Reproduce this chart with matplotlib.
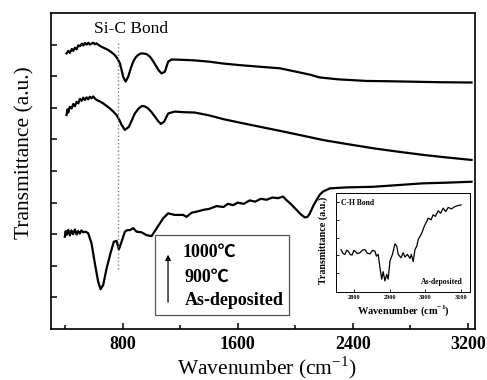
import matplotlib
matplotlib.use("Agg")
import matplotlib.pyplot as plt
from matplotlib.patches import Rectangle

plt.rcParams['font.family'] = ['Liberation Serif', 'Noto Sans CJK SC', 'DejaVu Sans']
plt.rcParams['mathtext.fontset'] = 'custom'
plt.rcParams['mathtext.rm'] = 'Liberation Serif'
plt.rcParams['mathtext.bf'] = 'Liberation Serif:bold'

# FTIR spectra (wavenumber in cm-1, transmittance in a.u.)
wn_1000 = [408, 420, 431, 445, 455, 466, 478, 490, 501, 515, 525, 536, 548, 560, 570, 582,
           595, 606, 617, 630, 652, 675, 698, 720, 744, 762, 779, 790, 802, 819, 837, 855,
           872, 890, 906, 925, 941, 965, 988, 1010, 1034, 1050, 1069, 1092, 1115, 1139,
           1200, 1254, 1301, 1400, 1500, 1614, 1750, 1892, 2008, 2100, 2170, 2300, 2495,
           2650, 2774, 3000, 3226]
tr_1000 = [8.72, 8.80, 8.74, 8.86, 8.80, 8.90, 8.85, 8.98, 8.95, 9.03, 8.97, 9.05, 9.00, 9.06,
           9.00, 9.03, 9.06, 9.01, 9.04, 8.99, 8.93, 8.88, 8.83, 8.76, 8.67, 8.56, 8.41, 8.22,
           7.98, 7.83, 7.98, 8.25, 8.46, 8.60, 8.67, 8.72, 8.72, 8.70, 8.62, 8.48, 8.30, 8.18,
           8.09, 8.14, 8.46, 8.53, 8.52, 8.51, 8.50, 8.46, 8.40, 8.35, 8.30, 8.25, 8.14, 8.05,
           7.96, 7.90, 7.85, 7.84, 7.83, 7.81, 7.80]

wn_900 = [408, 415, 420, 431, 443, 455, 466, 478, 490, 501, 513, 525, 536, 548, 559, 570,
          582, 594, 606, 617, 640, 663, 687, 710, 733, 756, 775, 791, 814, 842, 862, 883,
          910, 934, 955, 976, 1000, 1023, 1045, 1064, 1087, 1115, 1161, 1230, 1301, 1400,
          1500, 1614, 1753, 1915, 2050, 2193, 2350, 2541, 2700, 2889, 3050, 3226]
tr_900 = [6.77, 6.95, 6.85, 7.03, 6.98, 7.12, 7.05, 7.19, 7.14, 7.28, 7.22, 7.32, 7.25, 7.33,
          7.27, 7.35, 7.30, 7.36, 7.29, 7.25, 7.20, 7.14, 7.06, 6.98, 6.88, 6.77, 6.62, 6.46,
          6.30, 6.40, 6.60, 6.82, 6.98, 7.06, 7.04, 6.98, 6.86, 6.72, 6.58, 6.49, 6.56, 6.82,
          6.88, 6.86, 6.85, 6.76, 6.64, 6.53, 6.40, 6.25, 6.12, 5.98, 5.86, 5.72, 5.62, 5.51,
          5.43, 5.35]

wn_asdep = [396, 402, 408, 420, 431, 442, 454, 466, 478, 489, 500, 512, 524, 540, 559, 582,
            605, 628, 645, 663, 687, 714, 737, 756, 772, 791, 814, 832, 849, 872, 895, 930,
            965, 1000, 1034, 1080, 1115, 1161, 1220, 1243, 1278, 1320, 1359, 1400, 1452,
            1500, 1530, 1567, 1600, 1640, 1683, 1720, 1760, 1800, 1840, 1880, 1915, 1938,
            1970, 2008, 2040, 2066, 2085, 2101, 2125, 2147, 2170, 2193, 2240, 2350, 2541,
            2700, 2889, 3050, 3226]
tr_asdep = [2.92, 3.10, 2.98, 3.14, 2.96, 3.12, 3.00, 3.15, 2.99, 3.10, 3.02, 3.12, 3.06,
            3.08, 3.03, 2.71, 2.08, 1.50, 1.26, 1.39, 1.92, 2.40, 2.76, 2.79, 2.52, 2.76, 3.08,
            3.13, 3.13, 3.19, 3.08, 3.06, 2.97, 2.94, 3.18, 3.50, 3.66, 3.61, 3.61, 3.55, 3.68,
            3.72, 3.77, 3.80, 3.89, 3.86, 3.96, 3.92, 4.00, 3.96, 4.07, 4.03, 4.12, 4.09, 4.16,
            4.14, 4.19, 4.08, 3.95, 3.77, 3.62, 3.53, 3.55, 3.66, 3.90, 4.08, 4.25, 4.35, 4.45,
            4.48, 4.50, 4.55, 4.61, 4.63, 4.66]

# inset: C-H region of the as-deposited film
wn_ch = [2764, 2770, 2775, 2780, 2784, 2790, 2795, 2800, 2803, 2810, 2817, 2824, 2831, 2838,
         2845, 2852, 2859, 2863, 2868, 2873, 2878, 2882, 2887, 2892, 2896, 2901, 2908, 2915,
         2920, 2924, 2932, 2938, 2943, 2950, 2957, 2961, 2966, 2971, 2976, 2980, 2988, 2992,
         2997, 3004, 3008, 3016, 3022, 3028, 3036, 3043, 3050, 3057, 3064, 3073, 3083, 3092,
         3100]
tr_ch = [2.33, 2.10, 2.06, 2.30, 2.24, 2.05, 2.02, 2.28, 2.24, 2.10, 2.15, 2.30, 2.33, 2.12,
         2.09, 2.28, 2.24, 1.96, 2.06, 1.31, 0.67, 1.09, 0.57, 0.94, 0.67, 1.69, 2.06, 2.65,
         2.52, 2.06, 1.87, 2.15, 1.91, 2.06, 1.83, 2.06, 1.65, 2.33, 2.52, 2.89, 3.17, 3.35,
         3.63, 3.91, 4.09, 4.00, 4.28, 4.19, 4.50, 4.37, 4.65, 4.46, 4.69, 4.61, 4.74, 4.80,
         4.83]

sic_pos = 765
x_major = [800, 1600, 2400, 3200]
x_minor = [400, 1200, 2000, 2800]
y_ticks = [1, 2, 3, 4, 5, 6, 7, 8, 9]
inset_xticks = [2800, 2900, 3000, 3100]
inset_yticks = [1, 2, 3, 4, 5]

fig = plt.figure(figsize=(4.87, 3.80), dpi=100)
ax = fig.add_axes([51 / 487, 51 / 380, 424 / 487, 316 / 380])

for wn, tr in [(wn_1000, tr_1000), (wn_900, tr_900), (wn_asdep, tr_asdep)]:
    ax.plot(wn, tr, color='black', lw=1.6)

ax.plot([sic_pos, sic_pos], [1.9, 9.08], color='gray', lw=1, ls=':')
ax.text(0.101, 0.949, 'Si-C Bond', transform=ax.transAxes, fontsize=12.5,
        ha='left', va='center')

ax.set_xlim(300, 3250)
ax.set_ylim(0, 10)
ax.set_xticks(x_major)
ax.set_xticks(x_minor, minor=True)
ax.set_yticks(y_ticks)
ax.set_yticklabels([])
ax.tick_params(which='both', direction='in', top=False, right=False, width=1.1)
ax.tick_params(which='major', length=4, labelsize=13, pad=5)
ax.tick_params(which='minor', length=3)
for lab in ax.get_xticklabels():
    lab.set_fontweight('bold')
for s in ax.spines.values():
    s.set_linewidth(1.2)

ax.set_xlabel('Wavenumber (cm$^{-1}$)', fontsize=15.5)
ax.xaxis.set_label_coords(0.509, -0.079)
ax.set_ylabel('Transmittance (a.u.)', fontsize=15.5)
ax.yaxis.set_label_coords(-0.038, 0.557)

# legend box
ax.add_patch(Rectangle((0.245, 0.044), 0.316, 0.253, transform=ax.transAxes,
                       fill=False, edgecolor='#555555', lw=0.9))
ax.annotate('', xy=(0.276, 0.244), xytext=(0.276, 0.076), xycoords='axes fraction',
            arrowprops=dict(arrowstyle='-|>', color='black', lw=0.9, mutation_scale=8))
ax.text(0.311, 0.244, '1000℃', transform=ax.transAxes, fontsize=13,
        fontweight='bold', ha='left', va='center')
ax.text(0.316, 0.165, '900℃', transform=ax.transAxes, fontsize=13,
        fontweight='bold', ha='left', va='center')
ax.text(0.316, 0.089, 'As-deposited', transform=ax.transAxes, fontsize=13,
        fontweight='bold', ha='left', va='center')

# inset
ins = fig.add_axes([336 / 487, 88 / 380, 134 / 487, 99 / 380])
ins.plot(wn_ch, tr_ch, color='black', lw=0.9)
ins.set_xlim(2750, 3125)
ins.set_ylim(-0.05, 5.5)
ins.set_xticks(inset_xticks)
ins.set_yticks(inset_yticks)
ins.set_yticklabels([])
ins.tick_params(direction='in', length=2, width=0.6, labelsize=4.5, pad=2,
                top=False, right=False)
for lab in ins.get_xticklabels():
    lab.set_fontweight('bold')
for s in ins.spines.values():
    s.set_linewidth(0.7)
ins.set_xlabel(r'Wavenumber (cm$^{\mathbf{-1}}$)', fontsize=7.5, fontweight='bold')
ins.xaxis.set_label_coords(0.5, -0.12)
ins.set_ylabel('Transmittance (a.u.)', fontsize=7.2, fontweight='bold')
ins.yaxis.set_label_coords(-0.06, 0.525)
ins.text(0.04, 0.90, 'C-H Bond', transform=ins.transAxes, fontsize=5.5,
         fontweight='bold', ha='left', va='center')
ins.text(0.948, 0.10, 'As-deposited', transform=ins.transAxes, fontsize=5.5,
         fontweight='bold', ha='right', va='center')

fig.savefig('out.png', dpi=100)
